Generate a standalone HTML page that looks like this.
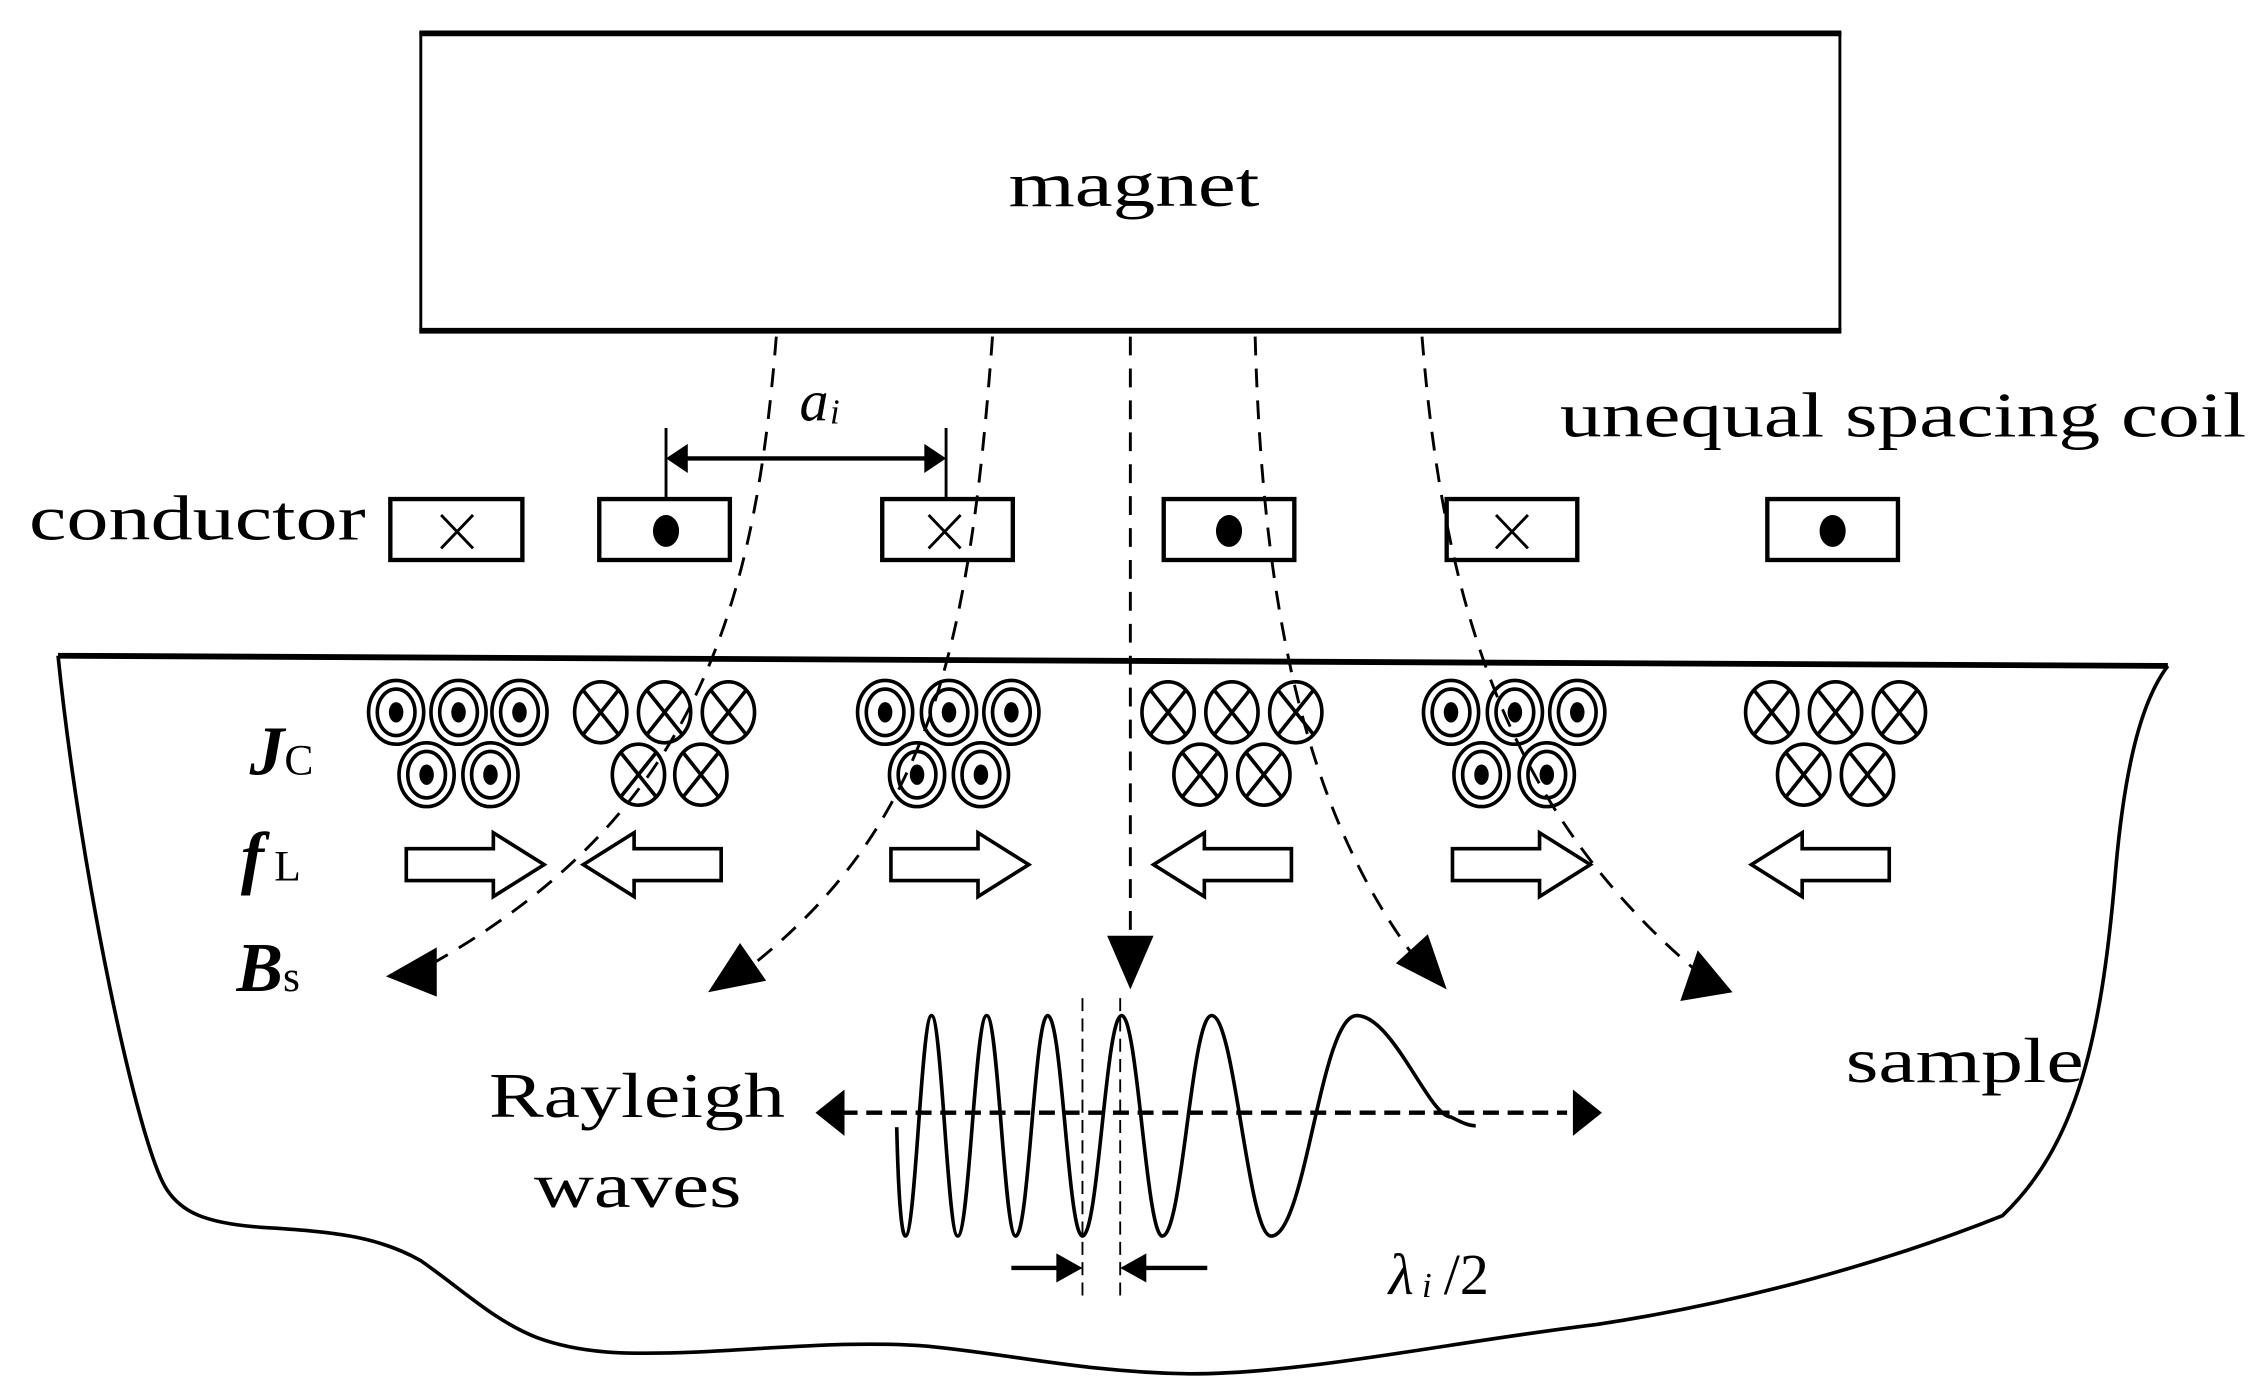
<!DOCTYPE html>
<html><head><meta charset="utf-8"><style>
html,body{margin:0;padding:0;background:#fff;}
svg{display:block;}
text{font-family:"Liberation Serif",serif;fill:#000;}
</style></head><body>
<svg width="2252" height="1384" viewBox="0 0 1552 954" preserveAspectRatio="none" xmlns="http://www.w3.org/2000/svg">
<!-- magnet -->
<rect x="290" y="23" width="978" height="205" fill="none" stroke="#000" stroke-width="2"/>
<line x1="289" y1="23" x2="1269" y2="23" stroke="#000" stroke-width="4"/>
<line x1="289" y1="228" x2="1269" y2="228" stroke="#000" stroke-width="4"/>
<text x="695" y="142" font-size="44" textLength="173" lengthAdjust="spacingAndGlyphs">magnet</text>
<text x="1075" y="301" font-size="44" textLength="473" lengthAdjust="spacingAndGlyphs">unequal spacing coil</text>
<text x="20" y="372" font-size="44" textLength="232" lengthAdjust="spacingAndGlyphs">conductor</text>

<!-- a_i dimension -->
<g stroke="#000" stroke-width="2">
<line x1="459" y1="295" x2="459" y2="343"/>
<line x1="652" y1="295" x2="652" y2="343"/>
<line x1="470" y1="316" x2="640" y2="316" stroke-width="3"/>
</g>
<polygon points="459,316 474,306 474,326" fill="#000"/>
<polygon points="652,316 637,306 637,326" fill="#000"/>
<text x="551" y="290" font-size="40" font-style="italic">a</text>
<text x="572" y="292" font-size="24" font-style="italic">i</text>

<!-- conductor boxes -->
<g fill="none" stroke="#000" stroke-width="3">
<rect x="269" y="344" width="91" height="42"/>
<rect x="413" y="344" width="90" height="42"/>
<rect x="608" y="344" width="90" height="42"/>
<rect x="802" y="344" width="90" height="42"/>
<rect x="997" y="344" width="90" height="42"/>
<rect x="1218" y="344" width="90" height="42"/>
</g>
<g stroke="#000" stroke-width="2">
<path d="M304,355 L326,378 M326,355 L304,378"/>
<path d="M640,355 L662,378 M662,355 L640,378"/>
<path d="M1031,355 L1053,378 M1053,355 L1031,378"/>
</g>
<ellipse cx="459" cy="366" rx="9" ry="11" fill="#000"/>
<ellipse cx="847" cy="366" rx="9" ry="11" fill="#000"/>
<ellipse cx="1263" cy="366" rx="9" ry="11" fill="#000"/>

<!-- sample outline -->
<path d="M40,452 L1494,459" stroke="#000" stroke-width="4" fill="none"/>
<path d="M40,452 C55,600 95,790 115,820 C125,835 140,843 180,846 C230,849 260,852 290,869 C320,890 340,910 370,922 C400,933 430,934 480,932 C540,929 590,924 640,928 C700,934 750,946 820,947 C900,947 1000,925 1100,913 C1200,898 1300,870 1380,838 C1430,790 1448,720 1458,600 C1465,520 1478,480 1494,459" stroke="#000" stroke-width="2.5" fill="none"/>

<!-- dashed field lines -->
<g fill="none" stroke="#000" stroke-width="2" stroke-dasharray="13,9">
<path d="M535,232 C520,420 480,560 300,663"/>
<path d="M684,232 C668,450 640,570 515,668"/>
<path d="M779,232 L779,648"/>
<path d="M865,232 C870,420 900,560 975,660"/>
<path d="M980,232 C995,420 1040,560 1170,670"/>
</g>
<polygon points="266,673 301,653 301,687" fill="#000"/>
<polygon points="488,684 510,650 528,676" fill="#000"/>
<polygon points="779,682 763,645 795,645" fill="#000"/>
<polygon points="997,682 962,664 984,644" fill="#000"/>
<polygon points="1194,684 1158,690 1170,655" fill="#000"/>

<!-- labels left -->
<text x="172" y="534" font-size="48" font-style="italic" font-weight="bold">J</text>
<text x="196" y="534" font-size="30">C</text>
<text x="166" y="607" font-size="48" font-style="italic" font-weight="bold">f</text>
<text x="189" y="607" font-size="30">L</text>
<text x="163" y="683" font-size="48" font-style="italic" font-weight="bold">B</text>
<text x="195" y="683" font-size="30">s</text>

<!-- current circles -->
<defs>
<g id="dot"><ellipse rx="19" ry="22" fill="none" stroke="#000" stroke-width="2.5"/><ellipse rx="13" ry="16" fill="none" stroke="#000" stroke-width="2.5"/><ellipse rx="5" ry="7" fill="#000"/></g>
<g id="cross"><ellipse rx="18" ry="21" fill="none" stroke="#000" stroke-width="2.5"/><path d="M-12,-15 L12,15 M12,-15 L-12,15" stroke="#000" stroke-width="2.5"/></g>
<polygon id="ra" points="-48,-11 12,-11 12,-22 47,0 12,22 12,11 -48,11" fill="#fff" stroke="#000" stroke-width="2.5"/>
<polygon id="la" points="48,-11 -12,-11 -12,-22 -47,0 -12,22 -12,11 48,11" fill="#fff" stroke="#000" stroke-width="2.5"/>
</defs>
<use href="#dot" x="273" y="491"/><use href="#dot" x="316" y="491"/><use href="#dot" x="358" y="491"/>
<use href="#dot" x="294" y="534"/><use href="#dot" x="338" y="534"/>
<use href="#cross" x="414" y="491"/><use href="#cross" x="458" y="491"/><use href="#cross" x="502" y="491"/>
<use href="#cross" x="440" y="534"/><use href="#cross" x="483" y="534"/>
<use href="#dot" x="610" y="491"/><use href="#dot" x="654" y="491"/><use href="#dot" x="697" y="491"/>
<use href="#dot" x="632" y="534"/><use href="#dot" x="676" y="534"/>
<use href="#cross" x="805" y="491"/><use href="#cross" x="849" y="491"/><use href="#cross" x="893" y="491"/>
<use href="#cross" x="827" y="534"/><use href="#cross" x="871" y="534"/>
<use href="#dot" x="1000" y="491"/><use href="#dot" x="1044" y="491"/><use href="#dot" x="1087" y="491"/>
<use href="#dot" x="1021" y="534"/><use href="#dot" x="1066" y="534"/>
<use href="#cross" x="1221" y="491"/><use href="#cross" x="1265" y="491"/><use href="#cross" x="1309" y="491"/>
<use href="#cross" x="1243" y="534"/><use href="#cross" x="1287" y="534"/>

<!-- force arrows -->
<use href="#ra" x="328" y="596"/><use href="#la" x="449" y="596"/>
<use href="#ra" x="662" y="596"/><use href="#la" x="842" y="596"/>
<use href="#ra" x="1049" y="596"/><use href="#la" x="1254" y="596"/>

<!-- wave -->
<g stroke="#000" fill="none">
<line x1="746" y1="688" x2="746" y2="893" stroke-width="1.3" stroke-dasharray="9,5"/>
<line x1="772" y1="688" x2="772" y2="893" stroke-width="1.3" stroke-dasharray="9,5"/>
<line x1="580" y1="767" x2="1080" y2="767" stroke-width="3" stroke-dasharray="11,6"/>
<path stroke-width="2.5" d="M618,777 C619,820 621,852 624,852 C631,852 635,700 642,700 C649,700 653,852 660,852 C668,852 672,700 680,700 C688,700 692,852 700,852 C709,852 713,700 722,700 C732,700 736,852 746,852 C757,852 762,700 773,700 C784,700 790,852 801,852 C815,852 821,700 835,700 C851,700 860,852 876,852 C900,852 910,700 935,700 C960,700 985,770 1000,770 C1008,774 1012,776 1017,776"/>
<line x1="697" y1="874" x2="735" y2="874" stroke-width="3"/>
<line x1="784" y1="874" x2="832" y2="874" stroke-width="3"/>
</g>
<polygon points="562,767 582,751 582,783" fill="#000"/>
<polygon points="1104,767 1084,751 1084,783" fill="#000"/>
<polygon points="746,874 728,864 728,884" fill="#000"/>
<polygon points="772,874 790,864 790,884" fill="#000"/>

<text x="337" y="770" font-size="44" textLength="204" lengthAdjust="spacingAndGlyphs">Rayleigh</text>
<text x="368" y="832" font-size="44" textLength="143" lengthAdjust="spacingAndGlyphs">waves</text>
<text x="1272" y="746" font-size="44" textLength="164" lengthAdjust="spacingAndGlyphs">sample</text>
<text x="957" y="892" font-size="40" font-style="italic">λ</text>
<text x="980" y="894" font-size="24" font-style="italic">i</text>
<text x="995" y="892" font-size="40">/2</text>
</svg>
</body></html>
